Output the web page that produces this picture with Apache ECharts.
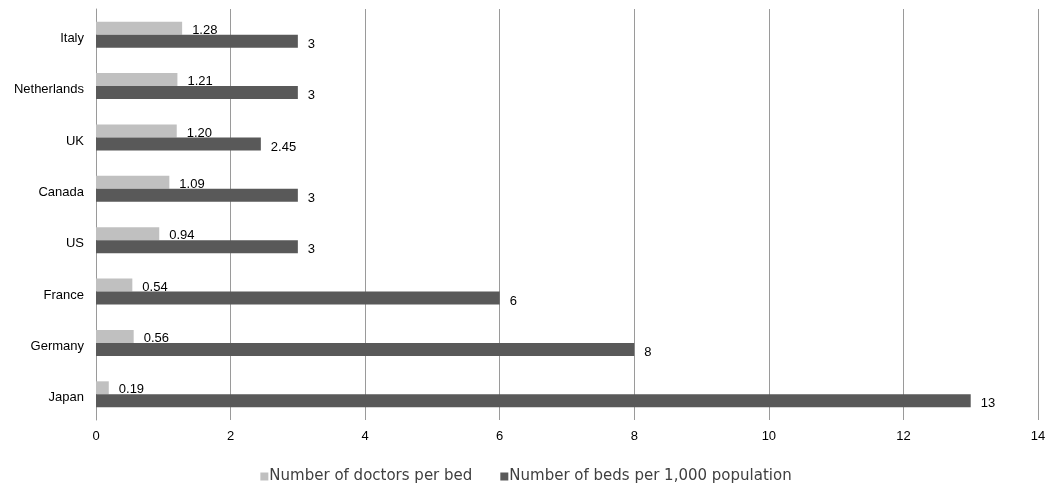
<!DOCTYPE html>
<html>
<head>
<meta charset="utf-8">
<script src="https://cdn.jsdelivr.net/npm/echarts@6/dist/echarts.min.js"></script>
<style>
  html, body { margin: 0; padding: 0; background: #fff; }
  #chart { width: 1052px; height: 485px; }
</style>
</head>
<body>
<div id="chart"></div>
<script>
// Countries, listed top to bottom
const countries = ['Italy', 'Netherlands', 'UK', 'Canada', 'US', 'France', 'Germany', 'Japan'];
const doctorsPerBed = [1.28, 1.21, 1.20, 1.09, 0.94, 0.54, 0.56, 0.19];
const bedsPer1000 = [3, 3, 2.45, 3, 3, 6, 8, 13];
const xTicks = [0, 2, 4, 6, 8, 10, 12, 14];

const seriesNames = ['Number of doctors per bed', 'Number of beds per 1,000 population'];

const chart = echarts.init(document.getElementById('chart'));
const labelFont = { fontFamily: 'Liberation Sans, Arial, sans-serif', fontSize: 13, color: '#000' };

chart.setOption({
  animation: false,
  grid: { left: 96, right: 14, top: 9, bottom: 65 },
  legend: {
    top: 464,
    left: 'center',
    itemWidth: 8,
    itemHeight: 8,
    itemGap: 28,
    icon: 'rect',
    data: seriesNames,
    textStyle: { fontFamily: 'DejaVu Sans, sans-serif', fontSize: 15, color: '#404040', padding: [0, 0, 0, -4] }
  },
  xAxis: {
    type: 'value',
    min: xTicks[0],
    max: xTicks[xTicks.length - 1],
    interval: 2,
    axisLine: { show: false },
    axisTick: { show: false },
    splitLine: { show: true, lineStyle: { color: '#9a9a9a', width: 1 } },
    axisLabel: Object.assign({ margin: 10 }, labelFont)
  },
  yAxis: {
    type: 'category',
    inverse: true,
    data: countries,
    axisLine: { show: true, lineStyle: { color: '#9a9a9a', width: 1 } },
    axisTick: { show: false },
    // labels sit a little below the band centre
    axisLabel: Object.assign({ margin: 12, verticalAlign: 'top', lineHeight: 7 }, labelFont)
  },
  series: [
    {
      name: seriesNames[0],
      type: 'bar',
      data: doctorsPerBed,
      barWidth: 13,
      barGap: '0%',
      itemStyle: { color: '#c0c0c0' },
      label: {
        show: true,
        position: 'right',
        distance: 10,
        offset: [0, 2],
        formatter: p => p.value.toFixed(2),
        ...labelFont
      }
    },
    {
      name: seriesNames[1],
      type: 'bar',
      data: bedsPer1000,
      barWidth: 13,
      barGap: '0%',
      itemStyle: { color: '#595959' },
      label: {
        show: true,
        position: 'right',
        distance: 10,
        offset: [0, 3],
        formatter: p => String(p.value),
        ...labelFont
      }
    }
  ]
});
</script>
</body>
</html>
